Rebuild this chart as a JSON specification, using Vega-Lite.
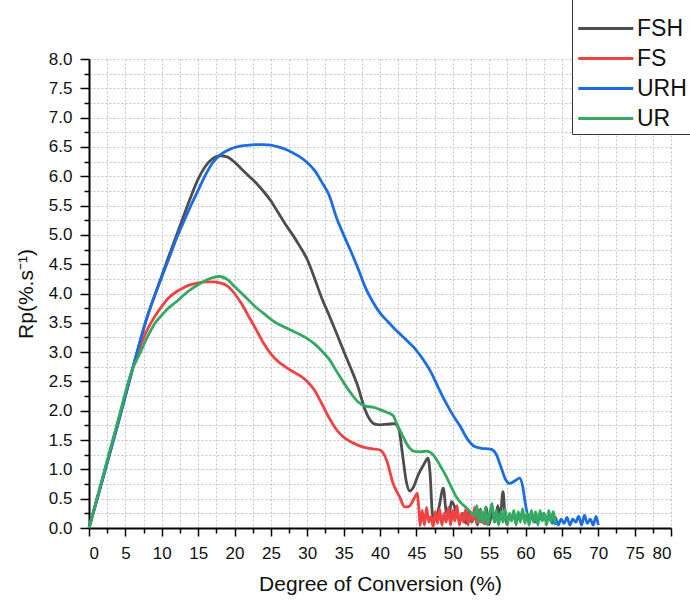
{
  "$schema": "https://vega.github.io/schema/vega-lite/v6.json",
  "width": 582,
  "height": 469,
  "autosize": "none",
  "padding": {"left": 89, "top": 59, "right": 19, "bottom": 75},
  "background": "white",
  "config": {"view": {"stroke": null}, "font": "Liberation Sans"},
  "data": {"values": [
    {"s":"FSH","x":0,"y":0},{"s":"FSH","x":2,"y":0.9},{"s":"FSH","x":4,"y":1.8},{"s":"FSH","x":6,"y":2.72},{"s":"FSH","x":8,"y":3.6},{"s":"FSH","x":10,"y":4.3},{"s":"FSH","x":11,"y":4.65},{"s":"FSH","x":12,"y":4.98},{"s":"FSH","x":13,"y":5.32},{"s":"FSH","x":14,"y":5.65},{"s":"FSH","x":15,"y":5.95},{"s":"FSH","x":16,"y":6.17},{"s":"FSH","x":17,"y":6.3},{"s":"FSH","x":18,"y":6.35},{"s":"FSH","x":19,"y":6.33},{"s":"FSH","x":20,"y":6.24},{"s":"FSH","x":21,"y":6.12},{"s":"FSH","x":22,"y":6.0},{"s":"FSH","x":23,"y":5.88},{"s":"FSH","x":24,"y":5.74},{"s":"FSH","x":25,"y":5.58},{"s":"FSH","x":26,"y":5.38},{"s":"FSH","x":27,"y":5.18},{"s":"FSH","x":28,"y":5.0},{"s":"FSH","x":29,"y":4.8},{"s":"FSH","x":30,"y":4.58},{"s":"FSH","x":31,"y":4.26},{"s":"FSH","x":32,"y":3.92},{"s":"FSH","x":33,"y":3.63},{"s":"FSH","x":34,"y":3.33},{"s":"FSH","x":35,"y":3.02},{"s":"FSH","x":36,"y":2.72},{"s":"FSH","x":37,"y":2.4},{"s":"FSH","x":37.5,"y":2.19},{"s":"FSH","x":38,"y":2.0},{"s":"FSH","x":38.6,"y":1.85},{"s":"FSH","x":39.3,"y":1.77},{"s":"FSH","x":40,"y":1.76},{"s":"FSH","x":41,"y":1.77},{"s":"FSH","x":42,"y":1.78},{"s":"FSH","x":42.6,"y":1.68},{"s":"FSH","x":43.1,"y":1.25},{"s":"FSH","x":43.6,"y":0.8},{"s":"FSH","x":44.1,"y":0.63},{"s":"FSH","x":44.6,"y":0.7},{"s":"FSH","x":45.3,"y":0.92},{"s":"FSH","x":46,"y":1.08},{"s":"FSH","x":46.6,"y":1.19},{"s":"FSH","x":46.9,"y":0.9},{"s":"FSH","x":47.2,"y":0.25},{"s":"FSH","x":47.6,"y":0.15},{"s":"FSH","x":48.1,"y":0.35},{"s":"FSH","x":48.7,"y":0.68},{"s":"FSH","x":49.1,"y":0.28},{"s":"FSH","x":49.5,"y":0.2},{"s":"FSH","x":49.8,"y":0.45},{"s":"FSH","x":50.2,"y":0.38},{"s":"FSH","x":50.6,"y":0.2},{"s":"FSH","x":51,"y":0.12},{"s":"FSH","x":51.4,"y":0.25},{"s":"FSH","x":51.8,"y":0.08},{"s":"FSH","x":52.2,"y":0.3},{"s":"FSH","x":52.6,"y":0.1},{"s":"FSH","x":53,"y":0.22},{"s":"FSH","x":53.4,"y":0.05},{"s":"FSH","x":53.8,"y":0.32},{"s":"FSH","x":54.2,"y":0.12},{"s":"FSH","x":54.6,"y":0.35},{"s":"FSH","x":55,"y":0.06},{"s":"FSH","x":55.4,"y":0.28},{"s":"FSH","x":55.8,"y":0.1},{"s":"FSH","x":56.2,"y":0.38},{"s":"FSH","x":56.5,"y":0.15},{"s":"FSH","x":56.9,"y":0.62},{"s":"FSH","x":57.2,"y":0.2},{"s":"FSH","x":57.5,"y":0.05},
    {"s":"FS","x":0,"y":0},{"s":"FS","x":2,"y":0.9},{"s":"FS","x":4,"y":1.8},{"s":"FS","x":6,"y":2.72},{"s":"FS","x":7,"y":3.08},{"s":"FS","x":8,"y":3.38},{"s":"FS","x":9,"y":3.6},{"s":"FS","x":10,"y":3.78},{"s":"FS","x":11,"y":3.93},{"s":"FS","x":12,"y":4.03},{"s":"FS","x":13,"y":4.1},{"s":"FS","x":14,"y":4.15},{"s":"FS","x":15,"y":4.18},{"s":"FS","x":16,"y":4.2},{"s":"FS","x":17,"y":4.2},{"s":"FS","x":18,"y":4.18},{"s":"FS","x":19,"y":4.13},{"s":"FS","x":20,"y":4.0},{"s":"FS","x":21,"y":3.82},{"s":"FS","x":22,"y":3.6},{"s":"FS","x":23,"y":3.38},{"s":"FS","x":24,"y":3.15},{"s":"FS","x":25,"y":2.97},{"s":"FS","x":26,"y":2.84},{"s":"FS","x":27,"y":2.75},{"s":"FS","x":28,"y":2.67},{"s":"FS","x":29,"y":2.6},{"s":"FS","x":30,"y":2.5},{"s":"FS","x":31,"y":2.35},{"s":"FS","x":32,"y":2.12},{"s":"FS","x":33,"y":1.88},{"s":"FS","x":34,"y":1.68},{"s":"FS","x":35,"y":1.55},{"s":"FS","x":36,"y":1.47},{"s":"FS","x":37,"y":1.41},{"s":"FS","x":38,"y":1.37},{"s":"FS","x":39,"y":1.35},{"s":"FS","x":40,"y":1.33},{"s":"FS","x":40.9,"y":1.16},{"s":"FS","x":41.8,"y":0.76},{"s":"FS","x":42.7,"y":0.53},{"s":"FS","x":43.4,"y":0.36},{"s":"FS","x":44.0,"y":0.37},{"s":"FS","x":44.8,"y":0.53},{"s":"FS","x":45.1,"y":0.59},{"s":"FS","x":45.35,"y":0.31},{"s":"FS","x":45.5,"y":0.04},{"s":"FS","x":45.8,"y":0.3},{"s":"FS","x":46.1,"y":0.05},{"s":"FS","x":46.4,"y":0.35},{"s":"FS","x":46.7,"y":0.1},{"s":"FS","x":47.0,"y":0.2},{"s":"FS","x":47.3,"y":0.02},{"s":"FS","x":47.6,"y":0.28},{"s":"FS","x":47.9,"y":0.08},{"s":"FS","x":48.2,"y":0.32},{"s":"FS","x":48.5,"y":0.05},{"s":"FS","x":48.8,"y":0.25},{"s":"FS","x":49.1,"y":0.1},{"s":"FS","x":49.4,"y":0.35},{"s":"FS","x":49.7,"y":0.05},{"s":"FS","x":50.0,"y":0.3},{"s":"FS","x":50.3,"y":0.12},{"s":"FS","x":50.6,"y":0.38},{"s":"FS","x":50.9,"y":0.05},{"s":"FS","x":51.2,"y":0.25},{"s":"FS","x":51.5,"y":0.1},{"s":"FS","x":51.8,"y":0.33},{"s":"FS","x":52.1,"y":0.05},{"s":"FS","x":52.4,"y":0.28},{"s":"FS","x":52.7,"y":0.12},{"s":"FS","x":53.0,"y":0.35},{"s":"FS","x":53.3,"y":0.08},{"s":"FS","x":53.6,"y":0.3},{"s":"FS","x":53.9,"y":0.1},{"s":"FS","x":54.2,"y":0.25},{"s":"FS","x":54.5,"y":0.05},
    {"s":"URH","x":0,"y":0},{"s":"URH","x":2,"y":0.88},{"s":"URH","x":4,"y":1.78},{"s":"URH","x":6,"y":2.72},{"s":"URH","x":7,"y":3.18},{"s":"URH","x":8,"y":3.6},{"s":"URH","x":9,"y":3.95},{"s":"URH","x":10,"y":4.28},{"s":"URH","x":11,"y":4.6},{"s":"URH","x":12,"y":4.93},{"s":"URH","x":13,"y":5.22},{"s":"URH","x":14,"y":5.5},{"s":"URH","x":15,"y":5.76},{"s":"URH","x":16,"y":6.02},{"s":"URH","x":17,"y":6.23},{"s":"URH","x":18,"y":6.36},{"s":"URH","x":19,"y":6.44},{"s":"URH","x":20,"y":6.49},{"s":"URH","x":21,"y":6.52},{"s":"URH","x":22,"y":6.53},{"s":"URH","x":23,"y":6.54},{"s":"URH","x":24,"y":6.54},{"s":"URH","x":25,"y":6.53},{"s":"URH","x":26,"y":6.5},{"s":"URH","x":27,"y":6.46},{"s":"URH","x":28,"y":6.4},{"s":"URH","x":29,"y":6.33},{"s":"URH","x":30,"y":6.23},{"s":"URH","x":31,"y":6.1},{"s":"URH","x":32,"y":5.9},{"s":"URH","x":33,"y":5.68},{"s":"URH","x":34,"y":5.3},{"s":"URH","x":35,"y":5.0},{"s":"URH","x":36,"y":4.72},{"s":"URH","x":37,"y":4.42},{"s":"URH","x":38,"y":4.1},{"s":"URH","x":39,"y":3.86},{"s":"URH","x":40,"y":3.67},{"s":"URH","x":41,"y":3.53},{"s":"URH","x":42,"y":3.4},{"s":"URH","x":43,"y":3.28},{"s":"URH","x":44,"y":3.16},{"s":"URH","x":45,"y":3.03},{"s":"URH","x":46,"y":2.86},{"s":"URH","x":47,"y":2.66},{"s":"URH","x":48,"y":2.4},{"s":"URH","x":49,"y":2.15},{"s":"URH","x":50,"y":1.93},{"s":"URH","x":51,"y":1.74},{"s":"URH","x":52,"y":1.52},{"s":"URH","x":53,"y":1.39},{"s":"URH","x":54,"y":1.36},{"s":"URH","x":55,"y":1.35},{"s":"URH","x":55.5,"y":1.33},{"s":"URH","x":56,"y":1.25},{"s":"URH","x":56.6,"y":1.05},{"s":"URH","x":57.3,"y":0.82},{"s":"URH","x":57.8,"y":0.76},{"s":"URH","x":58.5,"y":0.8},{"s":"URH","x":59.2,"y":0.85},{"s":"URH","x":59.6,"y":0.72},{"s":"URH","x":60.0,"y":0.4},{"s":"URH","x":60.4,"y":0.2},{"s":"URH","x":60.9,"y":0.22},{"s":"URH","x":61.3,"y":0.1},{"s":"URH","x":61.7,"y":0.2},{"s":"URH","x":62.1,"y":0.15},{"s":"URH","x":62.5,"y":0.25},{"s":"URH","x":62.9,"y":0.12},{"s":"URH","x":63.3,"y":0.2},{"s":"URH","x":63.7,"y":0.08},{"s":"URH","x":64.1,"y":0.18},{"s":"URH","x":64.5,"y":0.05},{"s":"URH","x":64.9,"y":0.15},{"s":"URH","x":65.3,"y":0.08},{"s":"URH","x":65.7,"y":0.18},{"s":"URH","x":66.1,"y":0.05},{"s":"URH","x":66.5,"y":0.15},{"s":"URH","x":66.9,"y":0.1},{"s":"URH","x":67.3,"y":0.2},{"s":"URH","x":67.7,"y":0.05},{"s":"URH","x":68.1,"y":0.22},{"s":"URH","x":68.5,"y":0.08},{"s":"URH","x":68.9,"y":0.15},{"s":"URH","x":69.3,"y":0.05},{"s":"URH","x":69.7,"y":0.2},{"s":"URH","x":70,"y":0.05},
    {"s":"UR","x":0,"y":0},{"s":"UR","x":2,"y":0.92},{"s":"UR","x":4,"y":1.84},{"s":"UR","x":6,"y":2.72},{"s":"UR","x":7,"y":2.98},{"s":"UR","x":8,"y":3.25},{"s":"UR","x":9,"y":3.48},{"s":"UR","x":10,"y":3.63},{"s":"UR","x":11,"y":3.76},{"s":"UR","x":12,"y":3.86},{"s":"UR","x":13,"y":3.97},{"s":"UR","x":14,"y":4.07},{"s":"UR","x":15,"y":4.15},{"s":"UR","x":16,"y":4.22},{"s":"UR","x":17,"y":4.27},{"s":"UR","x":18,"y":4.29},{"s":"UR","x":19,"y":4.24},{"s":"UR","x":20,"y":4.12},{"s":"UR","x":21,"y":4.0},{"s":"UR","x":22,"y":3.88},{"s":"UR","x":23,"y":3.76},{"s":"UR","x":24,"y":3.66},{"s":"UR","x":25,"y":3.56},{"s":"UR","x":26,"y":3.48},{"s":"UR","x":27,"y":3.42},{"s":"UR","x":28,"y":3.36},{"s":"UR","x":29,"y":3.3},{"s":"UR","x":30,"y":3.23},{"s":"UR","x":31,"y":3.14},{"s":"UR","x":32,"y":3.02},{"s":"UR","x":33,"y":2.88},{"s":"UR","x":34,"y":2.68},{"s":"UR","x":35,"y":2.48},{"s":"UR","x":36,"y":2.3},{"s":"UR","x":37,"y":2.15},{"s":"UR","x":38,"y":2.08},{"s":"UR","x":39,"y":2.06},{"s":"UR","x":40,"y":2.02},{"s":"UR","x":41,"y":1.97},{"s":"UR","x":41.8,"y":1.92},{"s":"UR","x":42.3,"y":1.78},{"s":"UR","x":43,"y":1.6},{"s":"UR","x":43.6,"y":1.45},{"s":"UR","x":44.1,"y":1.36},{"s":"UR","x":44.6,"y":1.31},{"s":"UR","x":45.5,"y":1.3},{"s":"UR","x":46.4,"y":1.31},{"s":"UR","x":47.3,"y":1.25},{"s":"UR","x":48.2,"y":1.08},{"s":"UR","x":49.1,"y":0.88},{"s":"UR","x":49.8,"y":0.7},{"s":"UR","x":50.5,"y":0.53},{"s":"UR","x":51.2,"y":0.42},{"s":"UR","x":51.9,"y":0.34},{"s":"UR","x":52.6,"y":0.25},{"s":"UR","x":53.0,"y":0.2},{"s":"UR","x":53.3,"y":0.38},{"s":"UR","x":53.6,"y":0.1},{"s":"UR","x":53.9,"y":0.3},{"s":"UR","x":54.2,"y":0.08},{"s":"UR","x":54.5,"y":0.35},{"s":"UR","x":54.8,"y":0.05},{"s":"UR","x":55.1,"y":0.25},{"s":"UR","x":55.4,"y":0.42},{"s":"UR","x":55.7,"y":0.1},{"s":"UR","x":56.0,"y":0.3},{"s":"UR","x":56.3,"y":0.05},{"s":"UR","x":56.6,"y":0.28},{"s":"UR","x":56.9,"y":0.1},{"s":"UR","x":57.2,"y":0.32},{"s":"UR","x":57.5,"y":0.05},{"s":"UR","x":57.8,"y":0.25},{"s":"UR","x":58.1,"y":0.12},{"s":"UR","x":58.4,"y":0.3},{"s":"UR","x":58.7,"y":0.05},{"s":"UR","x":59.0,"y":0.28},{"s":"UR","x":59.3,"y":0.1},{"s":"UR","x":59.6,"y":0.33},{"s":"UR","x":59.9,"y":0.08},{"s":"UR","x":60.2,"y":0.25},{"s":"UR","x":60.5,"y":0.05},{"s":"UR","x":60.8,"y":0.3},{"s":"UR","x":61.1,"y":0.1},{"s":"UR","x":61.4,"y":0.28},{"s":"UR","x":61.7,"y":0.05},{"s":"UR","x":62.0,"y":0.3},{"s":"UR","x":62.3,"y":0.12},{"s":"UR","x":62.6,"y":0.25},{"s":"UR","x":62.9,"y":0.05},{"s":"UR","x":63.2,"y":0.3},{"s":"UR","x":63.5,"y":0.1},{"s":"UR","x":63.8,"y":0.28},{"s":"UR","x":64.1,"y":0.05}
  ]},
  "mark": {"type": "line", "strokeWidth": 2.8, "interpolate": "monotone"},
  "encoding": {
    "x": {
      "field": "x", "type": "quantitative",
      "scale": {"domain": [0, 80], "nice": false, "zero": false},
      "axis": {
        "title": "Degree of Conversion (%)",
        "values": [0,2.5,5,7.5,10,12.5,15,17.5,20,22.5,25,27.5,30,32.5,35,37.5,40,42.5,45,47.5,50,52.5,55,57.5,60,62.5,65,67.5,70,72.5,75,77.5,80],
        "labelExpr": "datum.value % 5 === 0 ? datum.label : ''",
        "tickSize": {"condition": {"test": "datum.value % 5 === 0", "value": 8}, "value": 5},
        "tickColor": "black", "tickWidth": 1.5,
        "domainColor": "black", "domainWidth": 2,
        "labelFontSize": 17, "labelColor": "#111", "labelPadding": 9, "labelFont": "Liberation Sans",
        "titleFontSize": 21, "titleFontWeight": "normal", "titleColor": "#111", "titlePadding": 12, "titleFont": "Liberation Sans",
        "grid": true, "gridDash": [2, 2], "gridColor": "#c4c4c4", "gridWidth": 1
      }
    },
    "y": {
      "field": "y", "type": "quantitative",
      "scale": {"domain": [0, 8], "nice": false},
      "axis": {
        "title": "Rp(%.s⁻¹)",
        "values": [0,0.25,0.5,0.75,1,1.25,1.5,1.75,2,2.25,2.5,2.75,3,3.25,3.5,3.75,4,4.25,4.5,4.75,5,5.25,5.5,5.75,6,6.25,6.5,6.75,7,7.25,7.5,7.75,8],
        "labelExpr": "datum.value % 0.5 === 0 ? format(datum.value, '.1f') : ''",
        "tickSize": {"condition": {"test": "datum.value % 0.5 === 0", "value": 9}, "value": 5},
        "tickColor": "black", "tickWidth": 1.5,
        "domainColor": "black", "domainWidth": 2,
        "labelFontSize": 17, "labelColor": "#111", "labelPadding": 8, "labelFont": "Liberation Sans",
        "titleFontSize": 21, "titleFontWeight": "normal", "titleColor": "#111", "titlePadding": 12, "titleFont": "Liberation Sans",
        "grid": true, "gridDash": [2, 2], "gridColor": "#c4c4c4", "gridWidth": 1
      }
    },
    "color": {
      "field": "s", "type": "nominal",
      "scale": {"domain": ["FSH", "FS", "URH", "UR"], "range": ["#4d4d4d", "#ef4242", "#1c6ee0", "#35a862"]},
      "legend": {
        "orient": "none", "legendX": 483, "legendY": -61,
        "title": " ", "titleFontSize": 12, "titlePadding": 4,
        "symbolType": "M-1.5,0H8.5", "symbolSize": 121, "symbolStrokeWidth": 3.2,
        "labelFontSize": 23, "labelFont": "Liberation Sans", "labelColor": "#111",
        "labelOffset": 39, "rowPadding": 6, "padding": 3,
        "strokeColor": "#333", "fillColor": "white",
        "labelExpr": "datum.label + '\u00a0\u00a0\u00a0\u00a0\u00a0\u00a0'"
      }
    }
  }
}
